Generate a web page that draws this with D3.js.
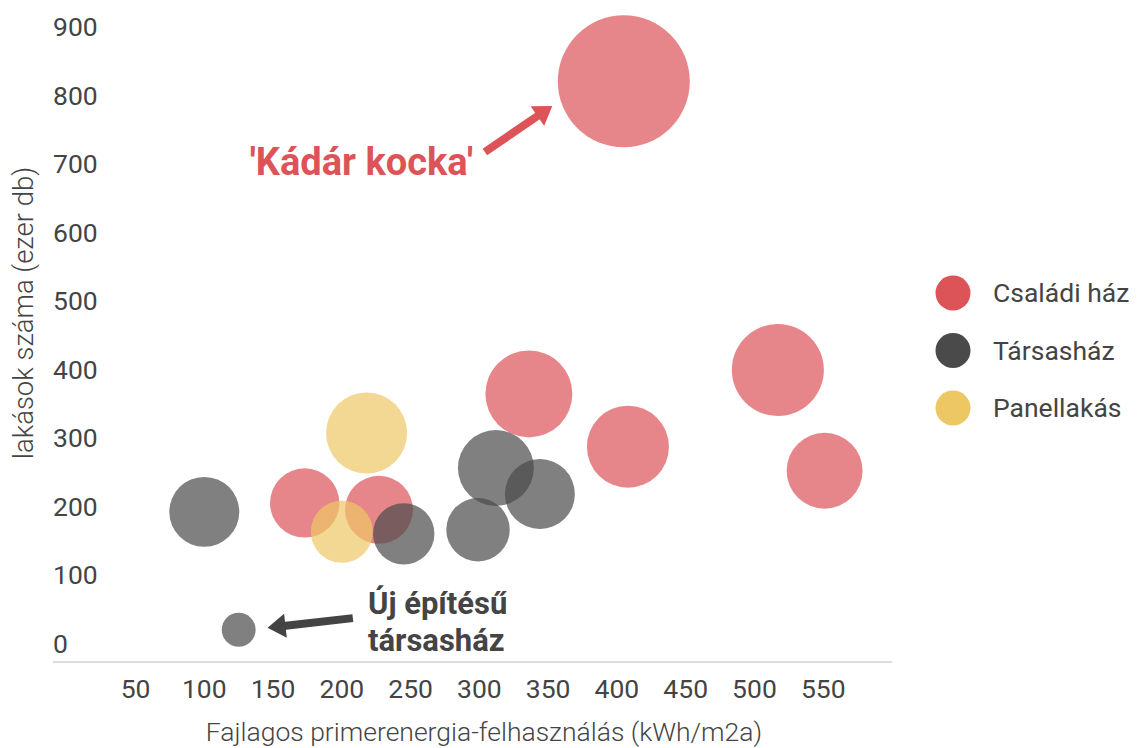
<!DOCTYPE html>
<html>
<head>
<meta charset="utf-8">
<script src="https://cdn.jsdelivr.net/npm/d3@7"></script>
<style>
  body { margin: 0; background: #fff; }
  svg { display: block; font-family: Roboto, "Noto Sans", sans-serif; }
</style>
</head>
<body>
<svg id="chart" width="1142" height="748"></svg>
<script>
// data
const groups = ["Családi ház", "Társasház", "Panellakás"];
const groupColors = ["#dc5358", "#4a4a4a", "#eec765"];

// per bubble: group, x = kWh/m2a, y = thousand flats, size = relative bubble size
const bubbleGroup = [0, 0, 0, 0, 0, 0, 0, 1, 1, 1, 1, 1, 1, 2, 2];
const bubbleX     = [405, 336, 408, 517, 551, 173, 227, 100, 245, 299, 312, 344, 125, 218, 200];
const bubbleY     = [847, 391, 314, 426, 279, 232, 222, 219, 187, 193, 283, 245, 47, 334, 190];
const bubbleSize  = [1000, 434, 386, 486, 331, 276, 265, 281, 216, 231, 331, 281, 66, 377, 221];

const xTicks = [50, 100, 150, 200, 250, 300, 350, 400, 450, 500, 550];
const yTicks = [0, 100, 200, 300, 400, 500, 600, 700, 800, 900];

const svg = d3.select("#chart");

const x = d3.scaleLinear().domain([-10, 600]).range([53, 892]);
const y = d3.scaleLinear().domain([0, 900]).range([662, 45]);
const r = d3.scaleSqrt().domain([0, d3.max(bubbleSize)]).range([0, 66]);

const textColor = "#444444";

// baseline
svg.append("line")
  .attr("x1", x(-10)).attr("x2", x(600))
  .attr("y1", y(0)).attr("y2", y(0))
  .attr("stroke", "#dddddd")
  .attr("stroke-width", 2);

// y tick labels sit above their (hidden) gridlines, left aligned
svg.append("g")
  .selectAll("text")
  .data(yTicks)
  .join("text")
  .attr("x", 53)
  .attr("y", d => y(d) - 9)
  .attr("fill", textColor)
  .attr("font-size", 26.5)
  .text(d => d);

// x tick labels
svg.append("g")
  .selectAll("text")
  .data(xTicks)
  .join("text")
  .attr("x", d => x(d))
  .attr("y", 698)
  .attr("text-anchor", "middle")
  .attr("fill", textColor)
  .attr("font-size", 26.5)
  .text(d => d);

// axis titles
svg.append("text")
  .attr("x", 484)
  .attr("y", 741)
  .attr("text-anchor", "middle")
  .attr("fill", textColor)
  .attr("font-size", 26.5)
  .attr("font-weight", 300)
  .text("Fajlagos primerenergia-felhasználás (kWh/m2a)");

svg.append("text")
  .attr("transform", "translate(33,313) rotate(-90)")
  .attr("text-anchor", "middle")
  .attr("fill", textColor)
  .attr("font-size", 27.5)
  .attr("font-weight", 300)
  .text("lakások száma (ezer db)");

// bubbles
const bubbles = d3.range(bubbleX.length).map(i => ({
  g: bubbleGroup[i], x: bubbleX[i], y: bubbleY[i], s: bubbleSize[i]
}));

svg.append("g")
  .selectAll("circle")
  .data(bubbles)
  .join("circle")
  .attr("cx", d => x(d.x))
  .attr("cy", d => y(d.y))
  .attr("r", d => r(d.s))
  .attr("fill", d => groupColors[d.g])
  .attr("fill-opacity", 0.7);

// legend
const legend = svg.append("g")
  .selectAll("g")
  .data(groups)
  .join("g")
  .attr("transform", (d, i) => `translate(953,${293 + i * 57.5})`);

legend.append("circle")
  .attr("r", 17.5)
  .attr("fill", (d, i) => groupColors[i]);

legend.append("text")
  .attr("x", 40)
  .attr("dy", "0.35em")
  .attr("fill", textColor)
  .attr("font-size", 26.5)
  .text(d => d);

// annotations (positions in data space)
function arrow(from, to, color) {
  const x1 = x(from[0]), y1 = y(from[1]), x2 = x(to[0]), y2 = y(to[1]);
  const len = Math.hypot(x2 - x1, y2 - y1);
  const ux = (x2 - x1) / len, uy = (y2 - y1) / len;
  const head = 18, half = 12;
  const bx = x2 - ux * head, by = y2 - uy * head;
  svg.append("line")
    .attr("x1", x1).attr("y1", y1)
    .attr("x2", bx + ux * 2).attr("y2", by + uy * 2)
    .attr("stroke", color)
    .attr("stroke-width", 8);
  svg.append("path")
    .attr("d", `M${x2},${y2}L${bx - uy * half},${by + ux * half}L${bx + uy * half},${by - ux * half}Z`)
    .attr("fill", color);
}

svg.append("text")
  .attr("x", x(133))
  .attr("y", y(710))
  .attr("fill", "#dc5358")
  .attr("font-size", 38)
  .attr("font-weight", 700)
  .text("'Kádár kocka'");
arrow([304, 744], [353, 811], "#dc5358");

const ujText = svg.append("text")
  .attr("x", x(219))
  .attr("y", y(70))
  .attr("fill", textColor)
  .attr("font-size", 31)
  .attr("font-weight", 700);
ujText.append("tspan").attr("x", x(219)).text("Új építésű");
ujText.append("tspan").attr("x", x(219)).attr("dy", 37).text("társasház");
arrow([208, 64], [146, 50], textColor);
</script>
</body>
</html>
